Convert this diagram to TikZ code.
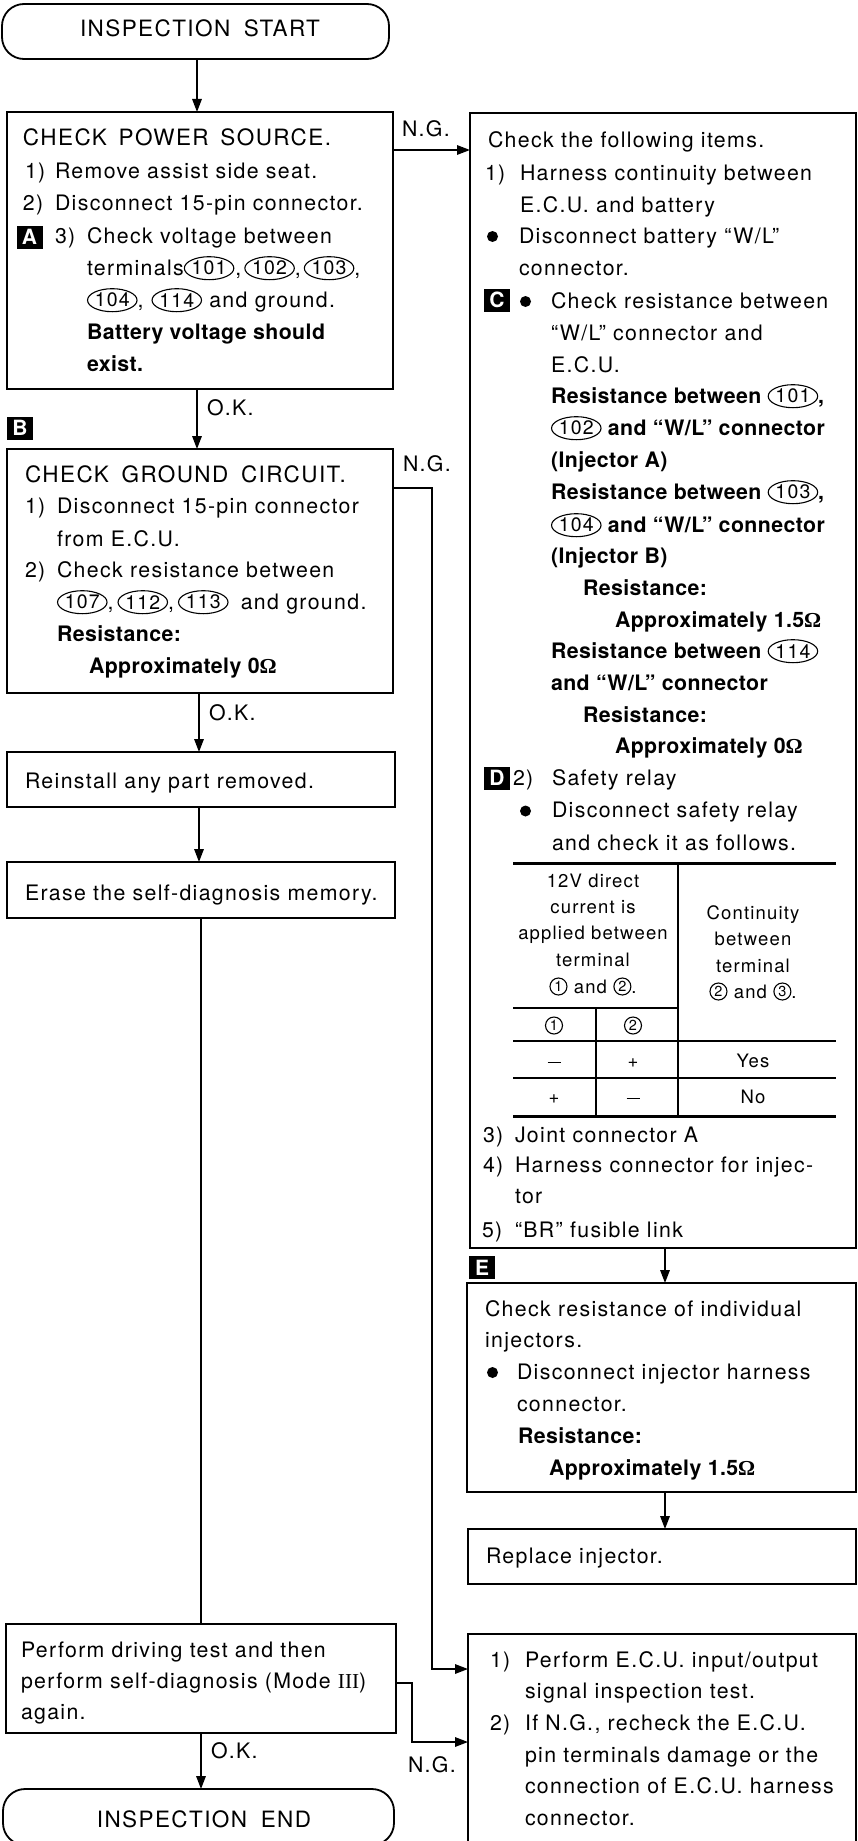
\documentclass[tikz,border=0pt]{standalone}
\usepackage{fontspec}
\setmainfont{TeX Gyre Heros}[UprightFeatures={LetterSpace=6.3},BoldFeatures={LetterSpace=2}]
\newfontfamily\serifont{Liberation Serif}
\usetikzlibrary{arrows.meta,shapes.geometric}
\newcommand\bodyfont{\fontsize{21.3}{32}\selectfont}
\newcommand\titlefont{\fontsize{22.5}{32}\selectfont}
\newcommand\tabfont{\fontsize{18.5}{26}\selectfont}
\newcommand\labfont{\fontsize{21}{21}\selectfont\bfseries}
\newcommand\cnfont{\fontsize{19.5}{19.5}\selectfont\mdseries}
\newcommand\ccfont{\fontsize{14.5}{14.5}\selectfont\mdseries}
\newcounter{tlc}
\newcounter{cnc}
\newcommand\tline[3]{\stepcounter{tlc}\node[txt] (t\arabic{tlc}) at (#1,#2) {#3};}
\newcommand\tcen[3]{\stepcounter{tlc}\node[tct] (t\arabic{tlc}) at (#1,#2) {#3};}
\newcommand\cn[1]{\stepcounter{cnc}\tikz[baseline=-6.8pt]\node[cnode] (cn\arabic{cnc}) {#1};}
\newcommand\cc[1]{\stepcounter{cnc}\tikz[baseline=-6.5pt]\node[ccnode] (cn\arabic{cnc}) {#1};}
\newcommand\Om{{\serifont Ω}}
\newcommand\tdash{\raisebox{4pt}{\rule{13pt}{1.3pt}}}
\tikzset{
 box/.style={draw, line width=1.8pt, rectangle, inner sep=0pt, outer sep=0pt, anchor=north west},
 term/.style={box, rounded corners=22pt},
 txt/.style={anchor=base west, inner sep=0pt, outer sep=0pt, font=\bodyfont},
 tct/.style={anchor=base, inner sep=0pt, outer sep=0pt, font=\tabfont},
 lab/.style={fill=black, text=white, inner sep=0pt, minimum width=26pt, minimum height=23pt, font=\labfont},
 cnode/.style={draw, ellipse, line width=1.1pt, inner sep=0pt, outer sep=0pt, minimum width=48pt, minimum height=23pt, anchor=center, font=\cnfont, text=black, fill=none},
 ccnode/.style={draw, circle, line width=1.1pt, inner sep=0pt, outer sep=0pt, minimum size=17pt, anchor=center, font=\ccfont, text=black, fill=none},
 conn/.style={line width=1.6pt},
 arr/.style={conn, -{Triangle[length=13pt,width=9.5pt]}},
 thinrule/.style={line width=1.4pt},
 thickrule/.style={line width=3pt},
}
\begin{document}
\begin{tikzpicture}[x=1pt,y=-1pt]
\useasboundingbox (0,0) rectangle (858,1841);
\clip (0,0) rectangle (858,1841);
% ---------- boxes ----------
\node[term, minimum width=387pt, minimum height=55pt] (st) at (2,4) {};
\node[box, minimum width=386pt, minimum height=277pt] (b1) at (7,112) {};
\node[box, minimum width=386pt, minimum height=244pt] (b2) at (7,449) {};
\node[box, minimum width=388pt, minimum height=55pt] (b3) at (7,752) {};
\node[box, minimum width=388pt, minimum height=56pt] (b4) at (7,862) {};
\node[box, minimum width=390pt, minimum height=109pt] (b5) at (6,1624) {};
\node[term, minimum width=391pt, minimum height=56pt] (en) at (3,1789) {};
\node[box, minimum width=386pt, minimum height=1135pt] (r1) at (470,113) {};
\node[box, minimum width=389pt, minimum height=209pt] (r2) at (467,1283) {};
\node[box, minimum width=388pt, minimum height=55pt] (r3) at (468,1529) {};
\node[box, minimum width=388pt, minimum height=230pt] (r4) at (468,1634) {};
% ---------- connectors ----------
\coordinate (xA) at (197,0);
\coordinate (xB) at (199,0);
\coordinate (xC) at (201,0);
\coordinate (xR) at (665,0);
\coordinate (xV1) at (432,0);
\coordinate (xV2) at (412,0);
\coordinate (y1) at (0,150);
\coordinate (y2) at (0,488);
\coordinate (y3) at (0,1669);
\coordinate (y4) at (0,1683);
\coordinate (y5) at (0,1742);
\draw[arr] (st.south -| xA) -- (b1.north -| xA);
\draw[arr] (b1.south -| xA) -- (b2.north -| xA);
\draw[arr] (b1.east |- y1) -- (r1.west |- y1);
\draw[arr] (b2.south -| xB) -- (b3.north -| xB);
\draw[arr] (b2.east |- y2) -- (xV1 |- y2) -- (xV1 |- y3) -- (r4.west |- y3);
\draw[arr] (b3.south -| xB) -- (b4.north -| xB);
\draw[conn] (b4.south -| xC) -- (b5.north -| xC);
\draw[arr] (b5.south -| xC) -- (en.north -| xC);
\draw[arr] (b5.east |- y4) -- (xV2 |- y4) -- (xV2 |- y5) -- (r4.west |- y5);
\draw[arr] (r1.south -| xR) -- (r2.north -| xR);
\draw[arr] (r2.south -| xR) -- (r3.north -| xR);
% ---------- connector labels ----------
\tline{402}{136}{N.G.}
\tline{207}{415}{O.K.}
\tline{403}{471}{N.G.}
\tline{209}{720}{O.K.}
\tline{211}{1758}{O.K.}
\tline{408}{1772}{N.G.}
% ---------- terminals ----------
\node[txt, anchor=base, font=\titlefont] (tS) at (200,37) {INSPECTION\hspace{6pt} START};
\node[txt, anchor=base, font=\titlefont] (tE) at (204,1827) {INSPECTION\hspace{6pt} END};
% ---------- box 1 ----------
\tline{23}{146}{\titlefont CHECK\hspace{4pt} POWER\hspace{4pt} SOURCE.}
\tline{25}{178}{1)}
\tline{55}{178}{Remove assist side seat.}
\tline{23}{210}{2)}
\tline{55}{210}{Disconnect 15-pin connector.}
\node[lab] (lA) at (29.5,237) {A};
\tline{55}{243}{3)}
\tline{87}{243}{Check voltage between}
\tline{87}{275}{terminals\cn{101}\kern1pt,\kern3pt\cn{102},\kern3pt\cn{103},}
\tline{87}{307}{\cn{104},\hspace{8pt}\cn{114} and ground.}
\tline{87}{339}{\bfseries Battery voltage should}
\tline{87}{371}{\bfseries exist.}
% ---------- box 2 ----------
\node[lab] (lB) at (20,428) {B};
\tline{25}{482}{\titlefont CHECK\hspace{5pt} GROUND\hspace{5pt} CIRCUIT.}
\tline{25}{513}{1)}
\tline{57}{513}{Disconnect 15-pin connector}
\tline{57}{546}{from E.C.U.}
\tline{25}{577}{2)}
\tline{57}{577}{Check resistance between}
\tline{57}{609}{\cn{107},\kern4pt\cn{112},\kern4pt\cn{113}\hspace{5pt} and ground.}
\tline{57}{641}{\bfseries Resistance:}
\tline{89}{673}{\bfseries Approximately 0\Om}
% ---------- boxes 3-5 ----------
\tline{25}{788}{Reinstall any part removed.}
\tline{25}{900}{Erase the self-diagnosis memory.}
\tline{21}{1657}{Perform driving test and then}
\tline{21}{1688}{perform self-diagnosis (Mode {\serifont III})}
\tline{21}{1719}{again.}
% ---------- right box 1 ----------
\tline{488}{147}{Check the following items.}
\tline{485}{180}{1)}
\tline{520}{180}{Harness continuity between}
\tline{520}{212}{E.C.U. and battery}
\fill (492.5,236.5) circle (5.5pt);
\tline{519}{243}{Disconnect battery “W/L”}
\tline{519}{275}{connector.}
\node[lab] (lC) at (497,300) {C};
\fill (525.5,301.5) circle (5.5pt);
\tline{551}{308}{Check resistance between}
\tline{551}{340}{“W/L” connector and}
\tline{551}{372}{E.C.U.}
\tline{551}{403}{\bfseries Resistance between \cn{101},}
\tline{551}{435}{\bfseries\cn{102} and “W/L” connector}
\tline{551}{467}{\bfseries (Injector A)}
\tline{551}{499}{\bfseries Resistance between \cn{103},}
\tline{551}{532}{\bfseries\cn{104} and “W/L” connector}
\tline{551}{563}{\bfseries (Injector B)}
\tline{583}{595}{\bfseries Resistance:}
\tline{615}{627}{\bfseries Approximately 1.5\Om}
\tline{551}{658}{\bfseries Resistance between \cn{114}}
\tline{551}{690}{\bfseries and “W/L” connector}
\tline{583}{722}{\bfseries Resistance:}
\tline{615}{753}{\bfseries Approximately 0\Om}
\node[lab] (lD) at (497,778) {D};
\tline{513}{785}{2)}
\tline{552}{785}{Safety relay}
\fill (525.5,811) circle (5.5pt);
\tline{552}{817}{Disconnect safety relay}
\tline{552}{850}{and check it as follows.}
% ---------- table ----------
\draw[thickrule] (513,863) -- (836,863);
\draw[thinrule] (513,1008) -- (678,1008);
\draw[thinrule] (678,863) -- (678,1116);
\draw[thinrule] (596,1008) -- (596,1116);
\draw[thinrule] (513,1041) -- (836,1041);
\draw[thinrule] (513,1078) -- (836,1078);
\draw[thickrule] (513,1116) -- (836,1116);
\tcen{593}{887}{12V direct}
\tcen{593}{913}{current is}
\tcen{593}{939}{applied between}
\tcen{593}{966}{terminal}
\tcen{593}{993}{\cc{1} and \cc{2}.}
\tcen{753}{919}{Continuity}
\tcen{753}{945}{between}
\tcen{753}{972}{terminal}
\tcen{753}{998}{\cc{2} and \cc{3}.}
\tcen{554}{1032}{\cc{1}}
\tcen{633}{1032}{\cc{2}}
\tcen{554}{1067}{\tdash}
\tcen{633}{1067}{+}
\tcen{753}{1067}{Yes}
\tcen{554}{1103}{+}
\tcen{633}{1103}{\tdash}
\tcen{753}{1103}{No}
% ---------- after table ----------
\tline{483}{1142}{3)}
\tline{515}{1142}{Joint connector A}
\tline{483}{1172}{4)}
\tline{515}{1172}{Harness connector for injec-}
\tline{515}{1203}{tor}
\tline{482}{1237}{5)}
\tline{515}{1237}{“BR” fusible link}
% ---------- right box 2 ----------
\node[lab] (lE) at (482,1267.5) {E};
\tline{485}{1316}{Check resistance of individual}
\tline{485}{1347}{injectors.}
\fill (492.5,1372.5) circle (5.5pt);
\tline{517}{1379}{Disconnect injector harness}
\tline{517}{1411}{connector.}
\tline{518}{1443}{\bfseries Resistance:}
\tline{549}{1475}{\bfseries Approximately 1.5\Om}
% ---------- right box 3 ----------
\tline{486}{1563}{Replace injector.}
% ---------- right box 4 ----------
\tline{490}{1667}{1)}
\tline{525}{1667}{Perform E.C.U. input/output}
\tline{525}{1698}{signal inspection test.}
\tline{490}{1730}{2)}
\tline{525}{1730}{If N.G., recheck the E.C.U.}
\tline{525}{1762}{pin terminals damage or the}
\tline{525}{1793}{connection of E.C.U. harness}
\tline{525}{1825}{connector.}
\end{tikzpicture}
\end{document}
